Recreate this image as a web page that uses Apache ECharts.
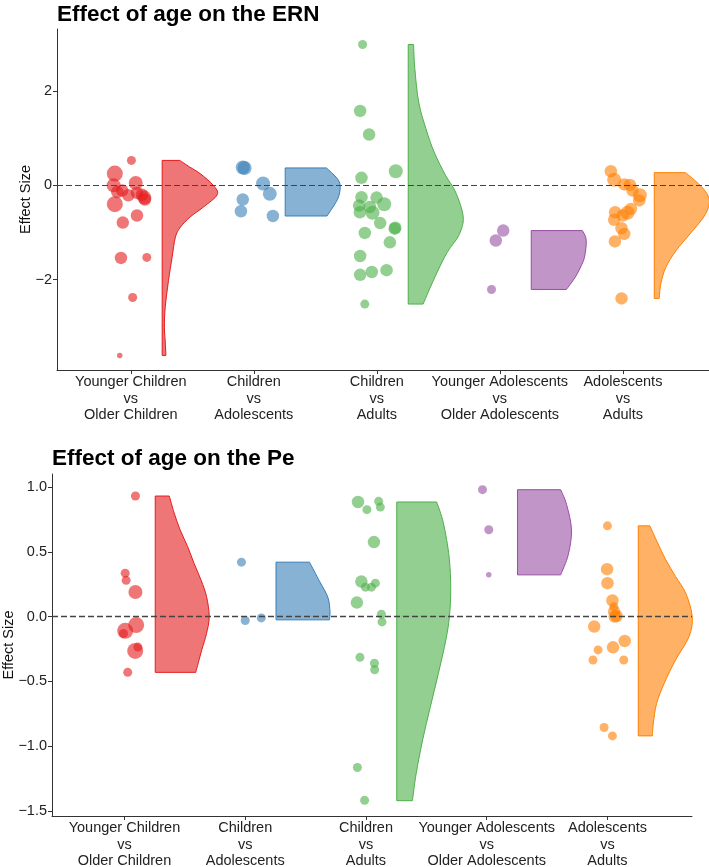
<!DOCTYPE html>
<html>
<head>
<meta charset="utf-8">
<script src="https://cdn.jsdelivr.net/npm/echarts@6/dist/echarts.min.js"></script>
<style>
  html, body { margin: 0; padding: 0; background: #fff; }
  #chart { width: 709px; height: 867px; }
</style>
</head>
<body>
<div id="chart"></div>
<script>
// comparisons (x axis)
const categories = [
  'Younger Children\nvs\nOlder Children',
  'Children\nvs\nAdolescents',
  'Children\nvs\nAdults',
  'Younger Adolescents\nvs\nOlder Adolescents',
  'Adolescents\nvs\nAdults'
]
const groupColors = ['#E41A1C', '#377EB8', '#4DAF4A', '#984EA3', '#FF7F00']

const ernTicks = [-2, 0, 2]
const peTicks = [-1.5, -1, -0.5, 0, 0.5, 1]

// ERN: effect sizes per comparison
const ernEffect = [
  [0.53, 0.25, 0.05, 0.0, -0.11, -0.14, -0.16, -0.21, -0.20, -0.26, -0.30, -0.40, -0.64, -0.79, -1.54, -1.53, -2.38, -3.61],
  [0.38, 0.37, 0.04, -0.18, -0.30, -0.55, -0.65],
  [2.99, 1.58, 1.08, 0.30, 0.16, -0.25, -0.26, -0.43, -0.40, -0.46, -0.57, -0.58, -0.80, -0.90, -0.92, -1.01, -1.21, -1.50, -1.90, -1.84, -1.80, -2.52],
  [-0.96, -1.17, -2.21],
  [0.30, 0.12, 0.02, 0.01, -0.11, -0.21, -0.32, -0.50, -0.58, -0.57, -0.64, -0.73, -0.91, -1.03, -1.19, -2.40]
]
// horizontal jitter
const ernJitter = [
  [0.005, -0.13, 0.04, -0.14, -0.07, -0.11, 0.05, -0.02, 0.09, 0.11, 0.115, -0.13, 0.05, -0.065, -0.08, 0.13, 0.015, -0.09],
  [-0.09, -0.075, 0.075, 0.13, -0.09, -0.105, 0.155],
  [-0.116, -0.136, -0.063, 0.154, -0.125, -0.125, -0.002, -0.144, 0.06, -0.057, -0.138, -0.035, 0.027, 0.15, 0.145, -0.098, 0.106, -0.136, -0.136, -0.041, 0.079, -0.098],
  [0.027, -0.033, -0.068],
  [-0.098, -0.071, 0.011, 0.057, 0.079, 0.138, 0.133, 0.065, 0.038, -0.063, -0.002, -0.071, -0.011, 0.011, -0.065, -0.011]
]
// study weight (point size class)
const ernWeight = [
  [2, 5, 4, 4, 3, 3, 3, 3, 3, 4, 3, 5, 3, 3, 3, 2, 2, 1],
  [4, 4, 4, 4, 3, 3, 3],
  [2, 3, 3, 4, 3, 3, 3, 3, 4, 3, 3, 4, 3, 3, 3, 3, 3, 3, 3, 3, 3, 2],
  [3, 3, 2],
  [3, 4, 3, 3, 3, 4, 3, 3, 4, 3, 3, 3, 3, 3, 3, 3]
]
// half-violin outline: [effect, relative width]
const ernDensity = [
  [[0.53, 0.32], [0.39, 0.5], [0.25, 0.69], [0, 0.93], [-0.2, 1.0], [-0.46, 0.75], [-0.67, 0.51], [-0.89, 0.33], [-1.1, 0.24], [-1.53, 0.18], [-2.02, 0.115], [-2.59, 0.055], [-3.01, 0.04], [-3.3, 0.055], [-3.61, 0.068]],
  [[0.37, 0.75], [0.14, 0.95], [-0.04, 1.0], [-0.3, 0.95], [-0.65, 0.76]],
  [[2.99, 0.097], [2.48, 0.12], [1.77, 0.19], [1.21, 0.32], [0.71, 0.47], [0.21, 0.68], [-0.14, 0.86], [-0.67, 1.0], [-1.06, 0.92], [-1.42, 0.71], [-1.91, 0.5], [-2.52, 0.27]],
  [[-0.96, 0.93], [-1.1, 0.99], [-1.25, 1.0], [-1.45, 0.98], [-1.6, 0.95], [-1.8, 0.87], [-1.95, 0.8], [-2.1, 0.71], [-2.21, 0.64]],
  [[0.27, 0.57], [0.04, 0.8], [-0.18, 0.96], [-0.39, 1.0], [-0.67, 0.9], [-1.03, 0.65], [-1.38, 0.4], [-1.74, 0.21], [-2.09, 0.12], [-2.4, 0.09]]
]

// Pe
const peEffect = [
  [0.93, 0.335, 0.28, 0.19, -0.065, -0.11, -0.13, -0.265, -0.235, -0.43],
  [0.42, -0.03, -0.01],
  [0.884, 0.825, 0.889, 0.845, 0.575, 0.27, 0.227, 0.227, 0.258, 0.108, 0.018, -0.041, -0.314, -0.36, -0.41, -1.164, -1.417],
  [0.979, 0.67, 0.322],
  [0.70, 0.366, 0.258, 0.124, 0.077, 0.039, 0.005, 0.0, -0.077, -0.188, -0.237, -0.257, -0.335, -0.335, -0.855, -0.92]
]
const peJitter = [
  [0.091, 0.006, 0.014, 0.091, 0.097, 0.006, -0.008, 0.089, 0.111, 0.027],
  [-0.031, 0.0, 0.133],
  [-0.066, 0.008, 0.105, 0.119, 0.066, -0.038, -0.005, 0.045, 0.078, -0.075, 0.128, 0.133, -0.05, 0.07, 0.072, -0.071, -0.011],
  [-0.035, 0.017, 0.017],
  [0.0, -0.003, 0.0, 0.041, 0.053, 0.055, 0.075, 0.06, -0.11, 0.143, 0.046, -0.078, -0.12, 0.135, -0.028, 0.041]
]
const peWeight = [
  [2, 2, 2, 4, 5, 5, 2, 5, 2, 2],
  [2, 2, 2],
  [3, 2, 2, 2, 3, 3, 2, 2, 2, 3, 2, 2, 2, 2, 2, 2, 2],
  [2, 2, 1],
  [2, 3, 3, 3, 2, 3, 3, 3, 3, 3, 3, 2, 2, 2, 2, 2]
]
const peDensity = [
  [[0.93, 0.26], [0.8, 0.35], [0.67, 0.46], [0.54, 0.6], [0.41, 0.72], [0.28, 0.85], [0.155, 0.95], [0, 1.0], [-0.13, 0.95], [-0.26, 0.86], [-0.43, 0.75]],
  [[0.42, 0.62], [0.27, 0.81], [0.15, 0.96], [0.04, 1.0], [-0.025, 0.99]],
  [[0.884, 0.74], [0.72, 0.865], [0.46, 0.97], [0.21, 1.0], [0, 0.975], [-0.18, 0.91], [-0.44, 0.77], [-0.7, 0.62], [-0.95, 0.48], [-1.21, 0.36], [-1.42, 0.29]],
  [[0.979, 0.8], [0.863, 0.91], [0.67, 1.0], [0.477, 0.94], [0.322, 0.8]],
  [[0.7, 0.215], [0.567, 0.36], [0.438, 0.51], [0.31, 0.69], [0.18, 0.88], [0, 1.0], [-0.155, 0.94], [-0.335, 0.69], [-0.515, 0.48], [-0.67, 0.34], [-0.82, 0.28], [-0.92, 0.26]]
]

const weightSize = [0, 5.5, 9, 12.5, 14, 16]
const violinOffset = 0.255
const violinWidth = 0.447
const font = 'Liberation Sans, Arial, Helvetica, sans-serif'

const alpha = (hex, a) => {
  const n = parseInt(hex.slice(1), 16)
  return `rgba(${n >> 16},${(n >> 8) & 255},${n & 255},${a})`
}
const minus = (s) => String(s).replace('-', '\u2212')

// smooth path through the outer edge of a half violin
const violinPath = (left, top, bottom, pts) => {
  let d = `M${left[0]},${top[1]} L${pts[0][0]},${pts[0][1]}`
  for (let i = 0; i < pts.length - 1; i++) {
    const p0 = pts[i - 1] || pts[i]
    const p1 = pts[i]
    const p2 = pts[i + 1]
    const p3 = pts[i + 2] || pts[i + 1]
    const c1 = [p1[0] + (p2[0] - p0[0]) / 6, p1[1] + (p2[1] - p0[1]) / 6]
    const c2 = [p2[0] - (p3[0] - p1[0]) / 6, p2[1] - (p3[1] - p1[1]) / 6]
    d += ` C${c1[0]},${c1[1]} ${c2[0]},${c2[1]} ${p2[0]},${p2[1]}`
  }
  d += ` L${left[0]},${bottom[1]} Z`
  return d
}

const panelSeries = (idx, effect, jitter, weight, density) => {
  const series = []
  series.push({
    type: 'custom',
    xAxisIndex: idx,
    yAxisIndex: idx,
    z: 1,
    silent: true,
    data: density.map((prof, g) => [g + 1, prof[0][0]]),
    renderItem: (params, api) => {
      const g = params.dataIndex
      const prof = density[g]
      const x0 = g + 1 + violinOffset
      const pts = prof.map(([y, w]) => api.coord([x0 + w * violinWidth, y]))
      const top = api.coord([x0, prof[0][0]])
      const bottom = api.coord([x0, prof[prof.length - 1][0]])
      return {
        type: 'path',
        shape: { pathData: violinPath(top, top, bottom, pts) },
        style: { fill: alpha(groupColors[g], 0.6), stroke: groupColors[g], lineWidth: 1 }
      }
    }
  })
  effect.forEach((vals, g) => {
    series.push({
      type: 'scatter',
      xAxisIndex: idx,
      yAxisIndex: idx,
      z: 2,
      silent: true,
      data: vals.map((y, i) => [g + 1 + jitter[g][i], y, weight[g][i]]),
      symbolSize: (v) => weightSize[v[2]],
      itemStyle: { color: groupColors[g], opacity: 0.6, borderWidth: 0 }
    })
  })
  series.push({
    type: 'line',
    xAxisIndex: idx,
    yAxisIndex: idx,
    data: [],
    z: 5,
    markLine: {
      silent: true,
      symbol: 'none',
      label: { show: false },
      lineStyle: { type: [6, 3], color: '#444', width: idx === 0 ? 1.1 : 1.4 },
      data: [{ yAxis: 0 }]
    }
  })
  return series
}

const axisLineStyle = { lineStyle: { color: '#333', width: 1 } }
const xAxisOf = (idx) => ({
  type: 'value',
  gridIndex: idx,
  min: 0.4,
  max: 5.7,
  axisLine: { show: true, onZero: false, ...axisLineStyle },
  axisTick: { show: true, length: 4, customValues: [1, 2, 3, 4, 5], lineStyle: { color: '#333' } },
  splitLine: { show: false },
  axisLabel: {
    customValues: [1, 2, 3, 4, 5],
    formatter: (v) => categories[Math.round(v) - 1],
    fontSize: 14.5,
    lineHeight: 16.5,
    color: '#222',
    fontFamily: font,
    margin: 4
  }
})
const yAxisOf = (idx, min, max, ticks, fmt, gap) => ({
  type: 'value',
  gridIndex: idx,
  min: min,
  max: max,
  name: 'Effect Size',
  nameLocation: 'middle',
  nameGap: gap,
  nameMoveOverlap: false,
  nameTextStyle: { fontSize: 14.5, color: '#111', fontFamily: font },
  axisLine: { show: true, onZero: false, ...axisLineStyle },
  axisTick: { show: true, length: 4, customValues: ticks, lineStyle: { color: '#333' } },
  splitLine: { show: false },
  axisLabel: {
    customValues: ticks,
    formatter: fmt,
    fontSize: 14.5,
    color: '#222',
    fontFamily: font,
    margin: 5
  }
})

const chart = echarts.init(document.getElementById('chart'), null, { renderer: 'canvas' })
const option = {
  backgroundColor: '#fff',
  animation: false,
  title: [
    { text: 'Effect of age on the ERN', left: 57, top: 3, padding: 0,
      textStyle: { fontSize: 22.5, fontWeight: 'bold', color: '#000', fontFamily: font } },
    { text: 'Effect of age on the Pe', left: 52, top: 447, padding: 0,
      textStyle: { fontSize: 22.5, fontWeight: 'bold', color: '#000', fontFamily: font } }
  ],
  grid: [
    { left: 57, right: 0, top: 29, height: 341, containLabel: false, outerBoundsMode: 'none' },
    { left: 52, right: 17, top: 474, height: 342, containLabel: false, outerBoundsMode: 'none' }
  ],
  xAxis: [xAxisOf(0), xAxisOf(1)],
  yAxis: [
    yAxisOf(0, -3.92, 3.32, ernTicks, (v) => minus(v), 24),
    yAxisOf(1, -1.538, 1.10, peTicks, (v) => minus(v.toFixed(1)), 36)
  ],
  series: [
    ...panelSeries(0, ernEffect, ernJitter, ernWeight, ernDensity),
    ...panelSeries(1, peEffect, peJitter, peWeight, peDensity)
  ]
}
option && chart.setOption(option)
</script>
</body>
</html>
